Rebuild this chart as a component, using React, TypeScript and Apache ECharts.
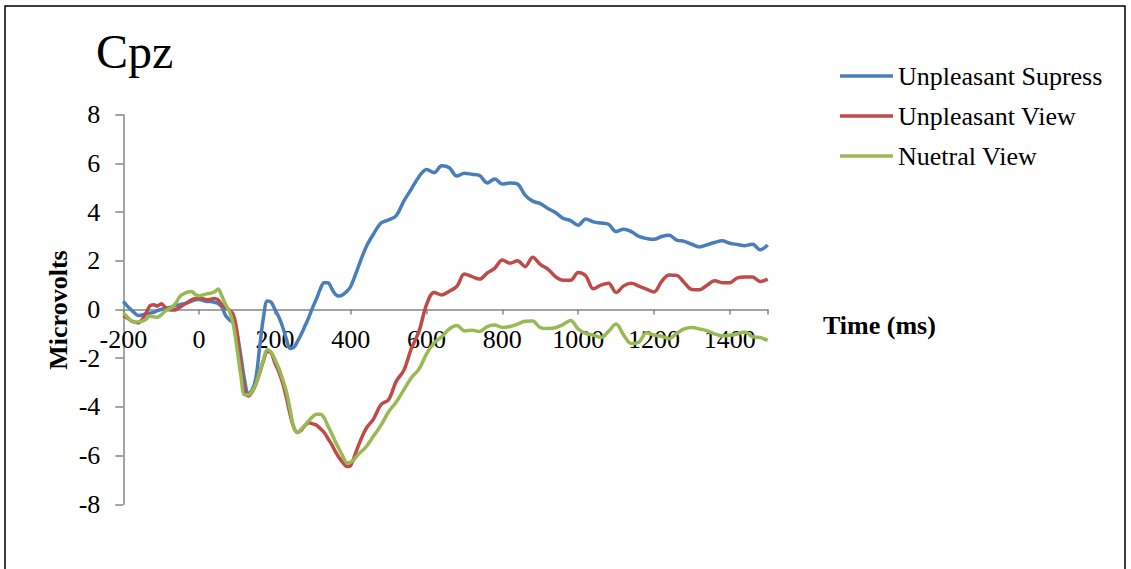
import React, { useEffect, useRef } from "react";
import * as echarts from "echarts";

const times: number[] = [
  -200, -190, -180, -170, -160, -150, -140, -130, -120, -110, -100, -90, -80, -70, -60, -50, -40, -30, -20, -10,
  0, 10, 20, 30, 40, 50, 60, 70, 80, 90, 100, 110, 120, 130, 140, 150, 160, 170, 180, 190,
  200, 210, 220, 230, 240, 250, 260, 270, 280, 290, 300, 310, 320, 330, 340, 350, 360, 370, 380, 390, 400,
  420, 440, 460, 480, 500, 520, 540, 560, 580, 600, 620, 640, 660, 680, 700, 720, 740, 760, 780,
  800, 820, 840, 860, 880, 900, 920, 940, 960, 980, 1000, 1020, 1040, 1060, 1080, 1100, 1120, 1140, 1160, 1180,
  1200, 1220, 1240, 1260, 1280, 1300, 1320, 1340, 1360, 1380, 1400, 1420, 1440, 1460, 1480, 1500,
];

const unpleasantSupress: number[] = [
  0.33, 0.15, 0.0, -0.15, -0.25, -0.22, -0.17, -0.15, -0.12, -0.05, 0.0, 0.03, 0.07, 0.12, 0.17, 0.2, 0.24, 0.28, 0.34, 0.4,
  0.41, 0.38, 0.33, 0.33, 0.3, 0.25, 0.1, -0.25, -0.42, -0.55, -1.0, -1.9, -2.9, -3.45, -3.3, -2.8, -1.5, -0.3, 0.35, 0.3,
  0.0, -0.3, -0.7, -1.2, -1.6, -1.55, -1.3, -1.0, -0.65, -0.3, 0.1, 0.45, 0.85, 1.1, 1.1, 0.85, 0.62, 0.55, 0.62, 0.75, 0.95,
  1.75, 2.55, 3.1, 3.55, 3.68, 3.85, 4.45, 4.95, 5.45, 5.75, 5.62, 5.9, 5.82, 5.48, 5.6, 5.55, 5.5, 5.2, 5.36,
  5.15, 5.2, 5.15, 4.7, 4.45, 4.35, 4.15, 3.98, 3.75, 3.65, 3.46, 3.72, 3.6, 3.55, 3.5, 3.2, 3.3, 3.2, 3.0, 2.92,
  2.88, 3.0, 3.05, 2.85, 2.8, 2.68, 2.57, 2.66, 2.75, 2.82, 2.72, 2.67, 2.62, 2.68, 2.45, 2.65,
];

const unpleasantView: number[] = [
  -0.25, -0.35, -0.45, -0.52, -0.55, -0.4, -0.15, 0.15, 0.2, 0.14, 0.24, 0.1, 0.0, -0.02, 0.0, 0.1, 0.2, 0.3, 0.4, 0.45,
  0.48, 0.44, 0.4, 0.42, 0.45, 0.4, 0.2, 0.06, -0.02, -0.2, -0.9, -2.3, -3.3, -3.55, -3.38, -3.05, -2.6, -2.1, -1.72, -1.78,
  -2.2, -2.55, -3.0, -3.6, -4.3, -4.85, -5.05, -4.95, -4.75, -4.65, -4.7, -4.75, -4.9, -5.05, -5.3, -5.55, -5.85, -6.1, -6.3, -6.45, -6.4,
  -5.6, -4.9, -4.5, -3.9, -3.7, -2.95, -2.5, -1.6, -0.9, 0.2, 0.7, 0.6, 0.75, 0.95, 1.46, 1.35, 1.25, 1.5, 1.7,
  2.03, 1.9, 2.0, 1.76, 2.15, 1.85, 1.66, 1.35, 1.2, 1.2, 1.52, 1.38, 0.85, 1.0, 1.08, 0.7, 0.97, 1.08, 0.96, 0.84,
  0.72, 1.15, 1.42, 1.4, 1.1, 0.82, 0.81, 1.0, 1.18, 1.1, 1.1, 1.3, 1.33, 1.33, 1.15, 1.25,
];

const nuetralView: number[] = [
  -0.14, -0.3, -0.45, -0.52, -0.5, -0.48, -0.4, -0.27, -0.3, -0.32, -0.22, -0.07, 0.02, 0.12, 0.3, 0.55, 0.65, 0.72, 0.74, 0.62,
  0.56, 0.6, 0.64, 0.67, 0.72, 0.84, 0.55, 0.2, -0.08, -0.6, -1.6, -2.7, -3.5, -3.5, -3.35, -3.05, -2.55, -2.05, -1.65, -1.75,
  -2.05, -2.4, -2.85, -3.35, -4.1, -4.85, -5.05, -4.9, -4.75, -4.55, -4.4, -4.3, -4.3, -4.45, -4.8, -5.1, -5.45, -5.75, -6.05, -6.3, -6.28,
  -5.95, -5.65, -5.2, -4.75, -4.2, -3.8, -3.3, -2.8, -2.45, -1.82, -1.37, -1.12, -0.8, -0.66, -0.88, -0.85, -0.9, -0.7, -0.64,
  -0.74, -0.7, -0.6, -0.48, -0.47, -0.74, -0.78, -0.75, -0.62, -0.45, -0.8, -0.98, -1.05, -1.15, -0.9, -0.6, -1.05, -1.4, -1.35, -0.95,
  -1.05, -1.1, -1.2, -0.98, -0.8, -0.74, -0.8, -0.87, -1.0, -1.08, -1.06, -1.0, -0.92, -1.12, -1.15, -1.27,
];

const seriesNames = ["Unpleasant Supress", "Unpleasant View", "Nuetral View"];
const seriesColors = ["#4A7EBB", "#BE4B48", "#98B954"];
const xTickLabels = ["-200", "0", "200", "400", "600", "800", "1000", "1200", "1400"];

const FONT = "'Liberation Serif', 'Times New Roman', serif";

const GRID_TOP = 114.7;
const GRID_BOTTOM_PX = 504.3;
const Y_MIN = -8;
const Y_MAX = 8;

export default function App() {
  const ref = useRef<HTMLDivElement>(null);
  useEffect(() => {
    if (!ref.current) return;
    const chart = echarts.init(ref.current, undefined, { renderer: "svg" });
    const allValues = [unpleasantSupress, unpleasantView, nuetralView];
    // place the x axis at y = 0
    const zeroOffset = -((0 - Y_MIN) / (Y_MAX - Y_MIN)) * (GRID_BOTTOM_PX - GRID_TOP);
    chart.setOption({
      animation: false,
      backgroundColor: "#fff",
      title: {
        text: "Cpz",
        left: 96,
        top: 27,
        padding: 0,
        textStyle: { fontFamily: FONT, fontSize: 48, fontWeight: "normal", color: "#000" },
      },
      legend: {
        orient: "vertical",
        left: 840,
        top: 63,
        padding: 0,
        icon: "rect",
        itemWidth: 53,
        itemHeight: 3.5,
        itemGap: 14,
        data: seriesNames,
        textStyle: { fontFamily: FONT, fontSize: 26, lineHeight: 26, color: "#000" },
      },
      grid: { left: 123.3, top: GRID_TOP, right: 363.3, bottom: 569 - GRID_BOTTOM_PX, containLabel: false },
      xAxis: {
        type: "value",
        min: -200,
        max: 1500,
        interval: 200,
        offset: zeroOffset,
        axisLine: { show: true, onZero: false, lineStyle: { color: "#868686", width: 1.5 } },
        axisTick: { show: true, length: 5, lineStyle: { color: "#868686", width: 1.5 } },
        axisLabel: {
          margin: 17,
          fontFamily: FONT,
          fontSize: 26,
          color: "#000",
          formatter: (v: number) => (xTickLabels.includes(String(v)) ? String(v) : ""),
        },
        splitLine: { show: false },
      },
      yAxis: {
        type: "value",
        min: Y_MIN,
        max: Y_MAX,
        interval: 2,
        axisLine: { show: true, onZero: false, lineStyle: { color: "#868686", width: 1.5 } },
        axisTick: { show: true, length: 8, lineStyle: { color: "#868686", width: 1.5 } },
        axisLabel: { margin: 23, fontFamily: FONT, fontSize: 26, color: "#000" },
        splitLine: { show: false },
      },
      series: seriesNames.map((name, i) => ({
        name,
        type: "line",
        showSymbol: false,
        symbol: "none",
        smooth: 0.35,
        color: seriesColors[i],
        itemStyle: { color: seriesColors[i] },
        lineStyle: { width: 3.5, color: seriesColors[i] },
        data: times.map((t, j) => [t, allValues[i][j]]),
      })),
      graphic: [
        {
          type: "rect",
          shape: { x: 5, y: 6, width: 1120, height: 580 },
          style: { fill: "none", stroke: "#000", lineWidth: 1.5 },
          silent: true,
        },
        {
          type: "text",
          x: 58,
          y: 310,
          rotation: Math.PI / 2,
          style: {
            text: "Microvolts",
            font: `bold 26px ${FONT}`,
            fill: "#000",
            align: "center",
            verticalAlign: "middle",
          },
        },
        {
          type: "text",
          x: 823,
          y: 325,
          style: {
            text: "Time (ms)",
            font: `bold 26px ${FONT}`,
            fill: "#000",
            align: "left",
            verticalAlign: "middle",
          },
        },
      ],
    });
    return () => chart.dispose();
  }, []);
  return (
    <div
      ref={ref}
      style={{ position: "absolute", left: 0, top: 0, width: 1131, height: 569 }}
    />
  );
}
